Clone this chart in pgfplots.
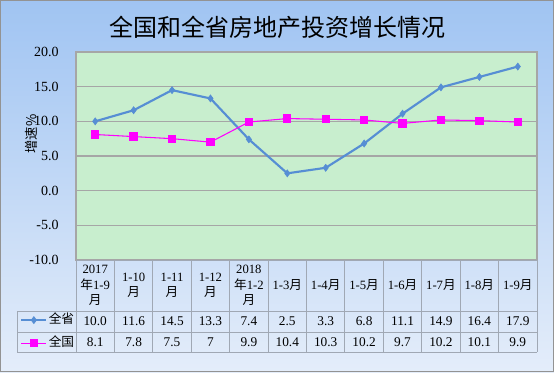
\documentclass[border=0pt]{standalone}
\usepackage{pgfplots}
\pgfplotsset{compat=1.18}
\usepackage{pgfplotstable}
\usepackage{fontspec}
\setmainfont{Liberation Serif}
\newfontfamily\cjk{Noto Sans CJK SC}
\definecolor{sheng}{RGB}{86,142,212}
\definecolor{guo}{RGB}{255,0,255}
\definecolor{plotbg}{RGB}{200,238,206}
\definecolor{gridc}{RGB}{166,166,166}
\definecolor{tabc}{RGB}{160,168,180}
\definecolor{bgtop}{RGB}{160,196,242}
\definecolor{bgbot}{RGB}{228,237,250}

\pgfplotstableread{
x sheng guo
0 10.0 8.1
1 11.6 7.8
2 14.5 7.5
3 13.3 7.0
4 7.4 9.9
5 2.5 10.4
6 3.3 10.3
7 6.8 10.2
8 11.1 9.7
9 14.9 10.2
10 16.4 10.1
11 17.9 9.9
}\datatable

\begin{document}
\begin{tikzpicture}
\shade[top color=bgtop,bottom color=bgbot] (0,0) rectangle (415.5pt,279pt);
\draw[gray!85, line width=0.75pt] (0.375pt,0.375pt) rectangle (415.125pt,278.625pt);
\node[font=\cjk\fontsize{18}{20}\selectfont] at (207.75pt,258.75pt) {全国和全省房地产投资增长情况};
\node[font=\cjk\fontsize{10}{11}\selectfont, rotate=90] at (23.25pt,178.5pt) {增速\%};
\begin{axis}[
 at={(57pt,84pt)}, anchor=south west, scale only axis,
 width=345.75pt, height=156pt,
 xmin=-0.5, xmax=11.5, ymin=-10, ymax=20, ytick={-10,-5,...,20},
 xtick=\empty,
 axis background/.style={fill=plotbg},
 axis line style={gridc, line width=0.8pt},
 ymajorgrids, grid style={gridc, line width=1pt},
 major tick length=0pt,
 yticklabel style={font=\fontsize{10.5}{12}\selectfont, xshift=-9.5pt,
   /pgf/number format/fixed, /pgf/number format/fixed zerofill,
   /pgf/number format/precision=1, /pgf/number format/assume math mode=true},
 clip=false,
 legend style={at={(-0.1215,-0.3449)}, anchor=west, draw=none, fill=none,
   inner sep=0pt, row sep=6.4pt,
   nodes={inner sep=1pt, text height=7pt, text depth=2pt, font=\cjk\fontsize{9.5}{10}\selectfont}},
 legend cell align=left,
 legend image code/.code={\draw[mark repeat=2,mark phase=2] plot coordinates {(0cm,0cm)(0.33cm,0cm)(0.66cm,0cm)};},
]
\addplot[sheng, line width=1.6pt, mark=diamond*, mark size=2.6pt, mark options={fill=sheng, line width=0.5pt}] table[x=x,y=sheng]{\datatable};
\addlegendentry{全省}
\addplot[guo, line width=0.8pt, mark=square*, mark size=2.7pt, mark options={fill=guo}] table[x=x,y=guo]{\datatable};
\addlegendentry{全国}
\end{axis}
% data table grid
\begin{scope}[tabc, line width=0.75pt]
\draw (57pt,84pt) -- (402.75pt,84pt);
\draw (12.75pt,45.75pt) -- (402.75pt,45.75pt);
\draw (12.75pt,30pt) -- (402.75pt,30pt);
\draw (12.75pt,15pt) -- (402.75pt,15pt);
\draw (12.75pt,45.75pt) -- (12.75pt,15pt);
\foreach \k in {0,...,12} {\draw ({57pt+28.8125pt*\k},84pt) -- ({57pt+28.8125pt*\k},15pt);}
\end{scope}
\begin{scope}[every node/.style={font=\fontsize{9.5}{11.6}\selectfont, align=center, inner sep=0pt}]
\foreach \lab [count=\i from 0] in {
 {2017\\{\cjk 年}1-9\\{\cjk 月}},
 {1-10\\{\cjk 月}},
 {1-11\\{\cjk 月}},
 {1-12\\{\cjk 月}},
 {2018\\{\cjk 年}1-2\\{\cjk 月}},
 {1-3{\cjk 月}},{1-4{\cjk 月}},{1-5{\cjk 月}},{1-6{\cjk 月}},
 {1-7{\cjk 月}},{1-8{\cjk 月}},{1-9{\cjk 月}}}
 {\node at ({57pt+28.8125pt*(\i+0.5)},64.9pt) {\lab};}
\end{scope}
\begin{scope}[every node/.style={font=\fontsize{10}{12}\selectfont, inner sep=0pt}]
\foreach \v [count=\i from 0] in {10.0,11.6,14.5,13.3,7.4,2.5,3.3,6.8,11.1,14.9,16.4,17.9}
 {\node at ({57pt+28.8125pt*(\i+0.5)},37.9pt) {\v};}
\foreach \v [count=\i from 0] in {8.1,7.8,7.5,7,9.9,10.4,10.3,10.2,9.7,10.2,10.1,9.9}
 {\node at ({57pt+28.8125pt*(\i+0.5)},22.4pt) {\v};}
\end{scope}
\end{tikzpicture}
\end{document}
